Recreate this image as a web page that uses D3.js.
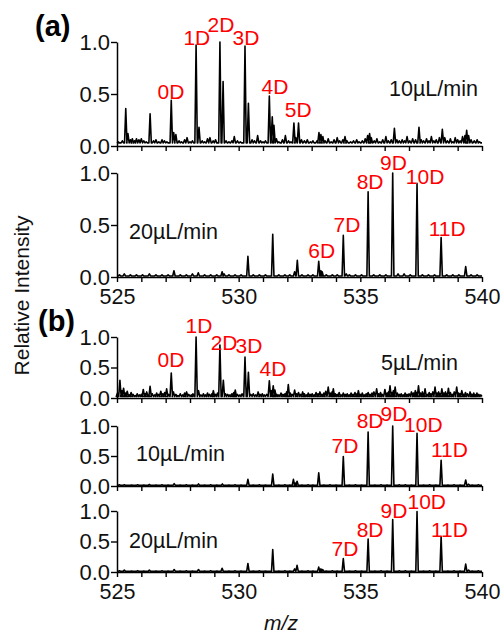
<!DOCTYPE html>
<html>
<head>
<meta charset="utf-8">
<script src="https://cdn.jsdelivr.net/npm/d3@7"></script>
<style>
  body { margin: 0; background: #fff; }
  svg text { font-family: "Liberation Sans", Arial, sans-serif; }
</style>
</head>
<body>
<svg id="chart" width="503" height="634"></svg>
<script>
// ---- axis values ----
const mzDomain = [525, 540];
const mzTicks = d3.range(525, 541, 1);
const mzLabelTicks = [525, 530, 535, 540];
const intensityTicks = [0, 0.5, 1.0];

// ---- spectra: [m/z, relative intensity] ----
// (a) 10 µL/min
const specA10 = [
  [525.05,.04],[525.12,.03],[525.22,.05],[525.36,.36],[525.45,.12],[525.55,.06],[525.63,.07],[525.72,.05],
  [525.8,.07],[525.9,.06],[526.0,.07],[526.1,.05],[526.2,.04],[526.36,.31],[526.5,.05],[526.6,.06],
  [526.72,.04],[526.85,.06],[526.95,.05],[527.05,.04],[527.23,.44],[527.33,.13],[527.42,.11],[527.55,.05],
  [527.65,.04],[527.78,.06],[527.88,.08],[528.0,.04],[528.1,.05],[528.25,.97],[528.37,.18],[528.5,.05],
  [528.6,.04],[528.72,.07],[528.82,.08],[528.95,.05],[529.05,.06],[529.23,1.0],[529.36,.62],[529.48,.05],
  [529.6,.04],[529.72,.05],[529.82,.09],[529.95,.05],[530.07,.04],[530.26,.96],[530.4,.41],[530.55,.06],
  [530.65,.05],[530.78,.1],[530.9,.05],[531.0,.04],[531.1,.05],[531.26,.48],[531.38,.28],[531.45,.2],
  [531.55,.07],[531.65,.04],[531.8,.06],[531.92,.1],[532.05,.05],[532.15,.04],[532.27,.22],[532.35,.08],
  [532.46,.22],[532.58,.06],[532.7,.05],[532.82,.06],[532.95,.04],[533.05,.05],[533.22,.05],[533.3,.13],
  [533.38,.11],[533.46,.09],[533.55,.05],[533.68,.07],[533.8,.04],[533.92,.06],[534.05,.08],[534.15,.05],
  [534.28,.06],[534.37,.09],[534.45,.05],[534.6,.04],[534.72,.05],[534.85,.06],[534.95,.04],[535.08,.05],
  [535.2,.07],[535.3,.1],[535.38,.12],[535.45,.08],[535.57,.05],[535.68,.07],[535.8,.04],[535.92,.06],
  [536.05,.09],[536.15,.05],[536.27,.06],[536.4,.17],[536.5,.06],[536.6,.05],[536.72,.06],[536.82,.05],
  [536.92,.09],[537.03,.05],[537.15,.07],[537.27,.06],[537.41,.18],[537.5,.06],[537.6,.05],[537.72,.07],
  [537.82,.05],[537.92,.09],[538.02,.05],[538.12,.06],[538.25,.08],[538.37,.16],[538.47,.08],[538.58,.05],
  [538.7,.07],[538.8,.04],[538.9,.08],[539.0,.06],[539.1,.05],[539.2,.09],[539.3,.1],[539.37,.15],
  [539.45,.1],[539.55,.06],[539.68,.05],[539.8,.06],[539.9,.04]
];
// (a) 20 µL/min
const specA20 = [
  [525.1,.02],[525.3,.03],[525.55,.02],[525.8,.02],[526.05,.02],[526.33,.03],[526.6,.02],[526.85,.02],
  [527.1,.02],[527.34,.06],[527.6,.02],[527.85,.02],[528.1,.03],[528.34,.04],[528.6,.02],[528.85,.02],
  [529.1,.02],[529.32,.05],[529.4,.03],[529.6,.02],[529.85,.02],[530.1,.02],[530.38,.2],[530.6,.02],
  [530.85,.02],[531.1,.02],[531.4,.41],[531.65,.02],[531.9,.02],[532.1,.02],[532.3,.05],[532.41,.16],
  [532.6,.02],[532.85,.02],[533.05,.02],[533.29,.15],[533.38,.06],[533.43,.05],[533.6,.02],[533.85,.02],
  [534.05,.02],[534.3,.40],[534.42,.03],[534.55,.02],[534.8,.02],[535.05,.02],[535.32,.82],[535.55,.02],
  [535.8,.02],[536.05,.02],[536.33,1.0],[536.55,.03],[536.8,.03],[537.05,.02],[537.33,.90],[537.55,.02],
  [537.8,.02],[538.05,.02],[538.32,.38],[538.55,.02],[538.8,.02],[539.05,.02],[539.33,.10],[539.55,.02],
  [539.8,.02]
];
// (b) 5 µL/min
const specB5 = [
  [525.02,.08],[525.12,.29],[525.2,.12],[525.27,.16],[525.35,.08],[525.42,.11],[525.5,.05],[525.58,.09],
  [525.66,.06],[525.75,.04],[525.83,.07],[525.92,.05],[526.0,.06],[526.08,.14],[526.15,.07],[526.22,.1],
  [526.3,.05],[526.36,.19],[526.45,.07],[526.55,.05],[526.63,.08],[526.72,.06],[526.8,.11],[526.88,.07],
  [526.96,.09],[527.04,.15],[527.12,.06],[527.23,.41],[527.32,.1],[527.42,.06],[527.5,.04],[527.6,.07],
  [527.7,.05],[527.78,.08],[527.86,.1],[527.95,.06],[528.05,.05],[528.12,.07],[528.25,1.0],[528.35,.12],
  [528.45,.05],[528.55,.07],[528.63,.05],[528.72,.08],[528.8,.06],[528.9,.07],[528.96,.12],[529.05,.06],
  [529.13,.08],[529.23,.87],[529.37,.29],[529.46,.07],[529.55,.06],[529.64,.05],[529.72,.07],[529.8,.09],
  [529.86,.13],[529.95,.06],[530.05,.05],[530.14,.07],[530.26,.67],[530.4,.42],[530.5,.06],[530.6,.07],
  [530.7,.05],[530.8,.1],[530.88,.06],[530.97,.07],[531.05,.05],[531.15,.06],[531.26,.28],[531.35,.12],
  [531.42,.2],[531.49,.13],[531.57,.06],[531.65,.05],[531.74,.08],[531.82,.06],[531.9,.07],[531.97,.1],
  [532.04,.22],[532.12,.08],[532.2,.06],[532.3,.13],[532.38,.07],[532.46,.09],[532.55,.06],[532.63,.1],
  [532.7,.07],[532.78,.05],[532.86,.08],[532.94,.06],[533.02,.07],[533.1,.05],[533.18,.09],[533.26,.07],
  [533.34,.1],[533.42,.06],[533.5,.08],[533.58,.11],[533.68,.18],[533.76,.08],[533.84,.1],[533.89,.15],
  [533.97,.07],[534.05,.06],[534.13,.09],[534.21,.05],[534.3,.08],[534.38,.06],[534.46,.07],[534.54,.05],
  [534.62,.08],[534.7,.06],[534.78,.09],[534.86,.07],[534.92,.12],[535.0,.06],[535.08,.08],[535.16,.05],
  [535.24,.07],[535.32,.09],[535.4,.06],[535.48,.08],[535.56,.1],[535.67,.15],[535.75,.07],[535.83,.09],
  [535.9,.06],[536.01,.14],[536.1,.08],[536.16,.1],[536.22,.2],[536.3,.09],[536.36,.12],[536.43,.18],
  [536.52,.08],[536.6,.06],[536.68,.07],[536.76,.05],[536.84,.08],[536.92,.06],[537.0,.07],[537.1,.1],
  [537.18,.08],[537.26,.12],[537.32,.09],[537.39,.2],[537.47,.08],[537.55,.1],[537.6,.07],[537.66,.15],
  [537.75,.06],[537.83,.09],[537.9,.07],[537.98,.1],[538.07,.18],[538.15,.08],[538.22,.1],[538.29,.07],
  [538.35,.15],[538.43,.08],[538.5,.1],[538.56,.07],[538.62,.16],[538.7,.09],[538.78,.06],[538.86,.1],
  [538.96,.18],[539.04,.08],[539.1,.07],[539.17,.12],[539.25,.06],[539.32,.09],[539.4,.07],[539.51,.1],
  [539.58,.06],[539.66,.08],[539.72,.05],[539.79,.08],[539.87,.06],[539.95,.05]
];
// (b) 10 µL/min
const specB10 = [
  [525.1,.02],[525.3,.02],[525.6,.015],[525.85,.02],[526.1,.015],[526.33,.025],[526.6,.015],[526.85,.02],
  [527.1,.015],[527.35,.04],[527.6,.015],[527.85,.02],[528.1,.015],[528.35,.035],[528.6,.015],[528.85,.02],
  [529.1,.015],[529.33,.035],[529.6,.015],[529.85,.02],[530.1,.015],[530.38,.11],[530.6,.015],[530.85,.02],
  [531.1,.015],[531.4,.20],[531.65,.015],[531.9,.02],[532.1,.015],[532.25,.11],[532.33,.05],[532.4,.08],
  [532.6,.015],[532.85,.02],[533.05,.015],[533.29,.22],[533.5,.015],[533.75,.02],[534.0,.015],[534.3,.49],
  [534.55,.015],[534.8,.02],[535.05,.015],[535.32,.90],[535.6,.015],[535.85,.02],[536.1,.015],[536.33,1.0],
  [536.6,.02],[536.85,.02],[537.1,.015],[537.33,.88],[537.6,.015],[537.85,.02],[538.1,.015],[538.32,.43],
  [538.6,.015],[538.85,.02],[539.1,.015],[539.33,.10],[539.45,.03],[539.6,.015],[539.85,.02]
];
// (b) 20 µL/min
const specB20 = [
  [525.1,.02],[525.3,.03],[525.6,.015],[525.85,.02],[526.1,.015],[526.33,.03],[526.6,.015],[526.85,.02],
  [527.1,.015],[527.35,.04],[527.6,.015],[527.85,.02],[528.1,.015],[528.35,.04],[528.6,.015],[528.85,.02],
  [529.1,.015],[529.32,.06],[529.6,.015],[529.85,.02],[530.1,.015],[530.38,.14],[530.6,.015],[530.85,.02],
  [531.1,.015],[531.4,.37],[531.65,.015],[531.9,.02],[532.1,.015],[532.3,.05],[532.4,.11],[532.6,.015],
  [532.85,.02],[533.05,.015],[533.29,.08],[533.38,.05],[533.45,.04],[533.6,.015],[533.85,.02],[534.05,.015],
  [534.3,.22],[534.55,.015],[534.8,.02],[535.05,.015],[535.32,.54],[535.6,.015],[535.85,.02],[536.1,.015],
  [536.33,.86],[536.6,.02],[536.85,.02],[537.1,.015],[537.33,.99],[537.6,.015],[537.85,.02],[538.1,.015],
  [538.32,.58],[538.6,.015],[538.85,.02],[539.1,.015],[539.33,.13],[539.45,.03],[539.6,.015],[539.85,.02]
];

// ---- peak labels: [text, m/z, intensity at label baseline] ----
const labelsA10 = [["0D",527.22,.45],["1D",528.28,.97],["2D",529.27,1.10],["3D",530.30,.97],["4D",531.49,.50],["5D",532.45,.28]];
const labelsA20 = [["6D",533.41,.18],["7D",534.45,.43],["8D",535.40,.85],["9D",536.36,1.03],["10D",537.66,.89],["11D",538.57,.39]];
const labelsB5  = [["0D",527.22,.51],["1D",528.37,1.07],["2D",529.40,.79],["3D",530.42,.74],["4D",531.41,.36]];
const labelsB10 = [["7D",534.37,.555],["8D",535.40,.96],["9D",536.38,1.09],["10D",537.59,.905],["11D",538.66,.49]];
const labelsB20 = [["7D",534.37,.26],["8D",535.40,.57],["9D",536.38,.88],["10D",537.73,1.03],["11D",538.66,.57]];

// ---- flow rates ----
const flowRates = ["10µL/min", "20µL/min", "5µL/min", "10µL/min", "20µL/min"];

// ---- layout ----
const svg = d3.select("#chart");
const x = d3.scaleLinear().domain(mzDomain).range([117, 482]);

const panels = [
  { spec: specA10, labels: labelsA10, flow: flowRates[0], top: 42,  bottom: 146, base: .03,  flowX: 389, flowY: 96,  mzText: false },
  { spec: specA20, labels: labelsA20, flow: flowRates[1], top: 173, bottom: 277, base: .01,  flowX: 129, flowY: 239, mzText: true  },
  { spec: specB5,  labels: labelsB5,  flow: flowRates[2], top: 337, bottom: 398, base: .025, flowX: 381, flowY: 370, mzText: false },
  { spec: specB10, labels: labelsB10, flow: flowRates[3], top: 426, bottom: 486, base: .01,  flowX: 136, flowY: 461, mzText: false },
  { spec: specB20, labels: labelsB20, flow: flowRates[4], top: 511, bottom: 572, base: .01,  flowX: 129, flowY: 548, mzText: true  }
];

// profile line through each peak as a narrow triangle on the baseline
function profilePoints(spec, base, hw) {
  const pts = [[mzDomain[0], base]];
  spec.slice().sort((a, b) => a[0] - b[0]).forEach(([m, h]) => {
    pts.push([m - hw, base], [m, h], [m + hw, base]);
  });
  pts.push([mzDomain[1], base]);
  return pts;
}

panels.forEach(p => {
  const y = d3.scaleLinear().domain([0, 1]).range([p.bottom, p.top]);
  const g = svg.append("g");

  // spectrum
  const line = d3.line().x(d => x(d[0])).y(d => y(d[1]));
  g.append("path")
    .attr("d", line(profilePoints(p.spec, p.base, 0.05)))
    .attr("fill", "none")
    .attr("stroke", "#000")
    .attr("stroke-width", 1.6)
    .attr("stroke-linejoin", "round");

  // y axis
  const yAxis = g.append("g")
    .attr("transform", `translate(${x(mzDomain[0])},0)`)
    .call(d3.axisLeft(y).tickValues(intensityTicks).tickFormat(d3.format(".1f")).tickSize(6).tickSizeOuter(0).tickPadding(1));

  // x axis
  const xAxis = g.append("g")
    .attr("transform", `translate(0,${p.bottom})`)
    .call(d3.axisBottom(x).tickValues(mzTicks)
      .tickFormat(d => (p.mzText && mzLabelTicks.includes(d)) ? d3.format("d")(d) : "")
      .tickSize(5).tickSizeOuter(0).tickPadding(7));

  [yAxis, xAxis].forEach(ax => {
    ax.select(".domain").attr("stroke", "#000").attr("stroke-width", 1.5);
    ax.selectAll(".tick line").attr("stroke", "#000").attr("stroke-width", 1.4);
    ax.selectAll(".tick text").attr("fill", "#111")
      .style("font-family", '"Liberation Sans", Arial, sans-serif');
  });
  yAxis.selectAll(".tick text").attr("font-size", 22);
  xAxis.selectAll(".tick text").attr("font-size", 21.5);

  // deuterium labels
  g.selectAll("text.peak").data(p.labels).enter().append("text")
    .attr("class", "peak")
    .attr("x", d => x(d[1]))
    .attr("y", d => y(d[2]))
    .attr("text-anchor", "middle")
    .attr("font-size", 21)
    .attr("fill", "#ff0000")
    .text(d => d[0]);

  // flow rate
  g.append("text")
    .attr("x", p.flowX).attr("y", p.flowY)
    .attr("font-size", 21.5).attr("fill", "#111")
    .text(p.flow);
});

// panel tags
svg.append("text").attr("x", 35).attr("y", 36).attr("font-size", 29).attr("font-weight", "bold").text("(a)");
svg.append("text").attr("x", 38).attr("y", 331).attr("font-size", 29).attr("font-weight", "bold").text("(b)");

// shared axis titles
svg.append("text")
  .attr("transform", "translate(28.5,295.5) rotate(-90)")
  .attr("text-anchor", "middle").attr("font-size", 21).attr("fill", "#111")
  .text("Relative Intensity");
svg.append("text")
  .attr("x", 281).attr("y", 630)
  .attr("text-anchor", "middle").attr("font-size", 21).attr("font-style", "italic").attr("fill", "#111")
  .text("m/z");
</script>
</body>
</html>
